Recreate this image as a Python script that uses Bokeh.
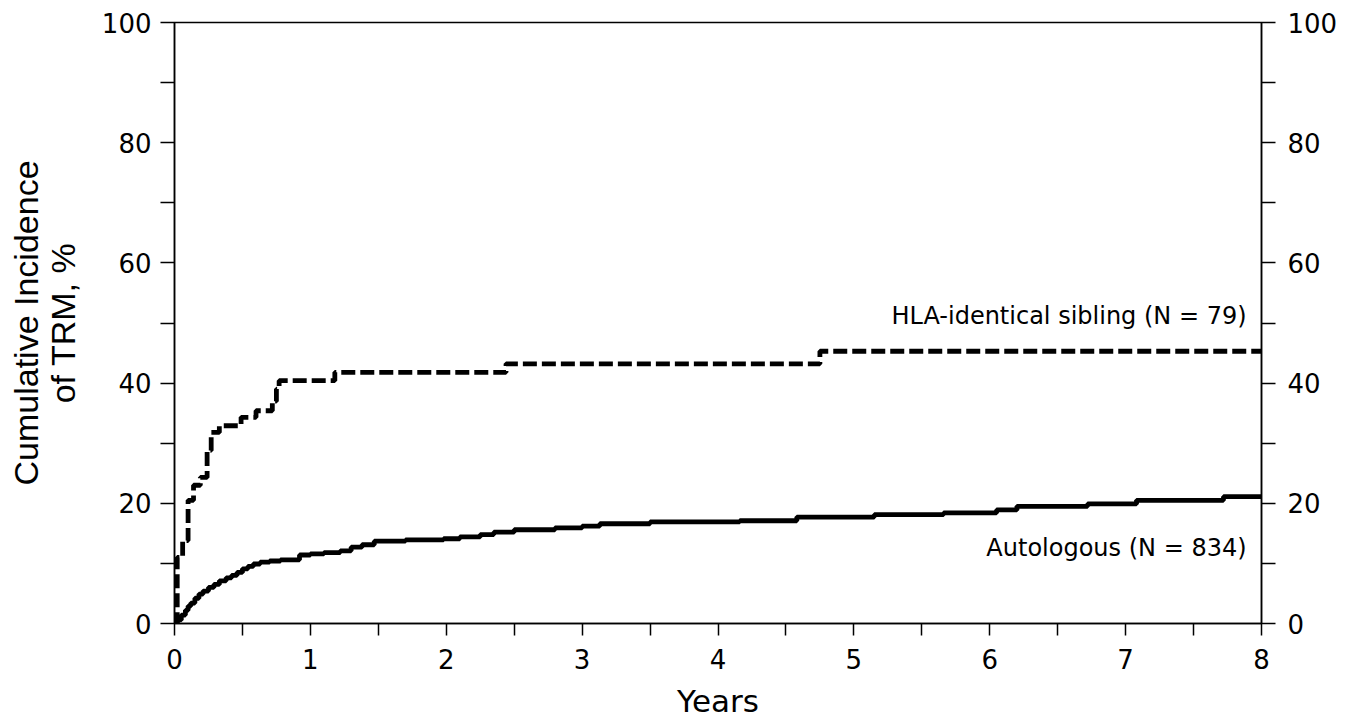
from bokeh.plotting import figure
from bokeh.models import LinearAxis, Label, FixedTicker, Range1d
from bokeh.embed import file_html
from bokeh.resources import INLINE

# HLA-identical sibling (step times in years, cumulative incidence %)
hla_t = [0, 0.02, 0.06, 0.10, 0.14, 0.19, 0.24, 0.27, 0.33, 0.49, 0.60, 0.72, 0.75, 0.77, 1.18, 2.44, 4.75, 8.0]
hla_v = [0, 11.0, 13.8, 20.5, 23.0, 24.3, 28.8, 31.8, 32.9, 34.3, 35.4, 37.0, 39.0, 40.4, 41.8, 43.2, 45.3, 45.3]

# Autologous
auto_t = [0, 0.02, 0.05, 0.08, 0.10, 0.12, 0.15, 0.18, 0.21, 0.25, 0.29, 0.33, 0.38, 0.42, 0.46,
          0.50, 0.54, 0.58, 0.63, 0.70, 0.78, 0.92, 1.00, 1.10, 1.22, 1.30, 1.38, 1.47, 1.70, 1.98,
          2.10, 2.25, 2.35, 2.50, 2.80, 3.00, 3.13, 3.50, 4.16, 4.58, 5.15, 5.66, 6.05, 6.20, 6.72,
          7.08, 7.72, 8.00]
auto_v = [0, 0.6, 1.4, 2.2, 2.9, 3.4, 4.2, 4.9, 5.4, 6.0, 6.5, 7.1, 7.6, 8.0, 8.5,
          9.1, 9.5, 9.9, 10.2, 10.4, 10.6, 11.4, 11.6, 11.8, 12.1, 12.7, 13.1, 13.7, 13.9, 14.1,
          14.4, 14.8, 15.2, 15.6, 15.9, 16.2, 16.6, 16.9, 17.1, 17.7, 18.1, 18.4, 18.9, 19.5, 19.9,
          20.5, 21.1, 21.1]

x_ticks = [0, 1, 2, 3, 4, 5, 6, 7, 8]
x_minor = [0.5, 1.5, 2.5, 3.5, 4.5, 5.5, 6.5, 7.5]
y_ticks = [0, 20, 40, 60, 80, 100]
y_minor = [10, 30, 50, 70, 90]

labels = ["HLA-identical sibling (N = 79)", "Autologous (N = 834)"]
label_pos_x = [7.89, 7.89]
label_pos_y = [51.2, 12.5]

x_title = "Years"
y_title = "Cumulative Incidence\nof TRM, %"

W, H = 1358, 723
p = figure(width=W, height=H, output_backend="svg", toolbar_location=None,
           x_range=Range1d(0, 8), y_range=Range1d(0, 100),
           min_border_left=174, min_border_right=97, min_border_top=22, min_border_bottom=100,
           background_fill_color="white", border_fill_color="white")
p.grid.visible = False
p.outline_line_color = "black"
p.outline_line_width = 1.5

p.step(auto_t, auto_v, mode="after", line_color="black", line_width=4.8)
p.step(hla_t, hla_v, mode="after", line_color="black", line_width=4.8, line_dash="14 5")

def style_axis(ax, ticks, minor):
    ax.ticker = FixedTicker(ticks=ticks, minor_ticks=minor)
    ax.axis_line_color = "black"
    ax.axis_line_width = 1.5
    ax.major_tick_line_color = "black"
    ax.minor_tick_line_color = "black"
    ax.major_tick_line_width = 1.5
    ax.minor_tick_line_width = 1.5
    ax.major_tick_in = 0
    ax.minor_tick_in = 0
    ax.major_label_text_font = "DejaVu Sans"
    ax.major_label_text_font_size = "26px"
    ax.major_label_text_color = "black"
    ax.axis_label_text_font_style = "normal"
    ax.axis_label_text_color = "black"

xa = p.xaxis[0]
style_axis(xa, x_ticks, x_minor)
xa.major_tick_out = 12
xa.minor_tick_out = 12
xa.major_label_standoff = 13
xa.axis_label = x_title
xa.axis_label_text_font = "DejaVu Sans"
xa.axis_label_text_font_size = "31px"
xa.axis_label_standoff = 11

ya = p.yaxis[0]
style_axis(ya, y_ticks, y_minor)
ya.major_tick_out = 14
ya.minor_tick_out = 14
ya.major_label_standoff = 9
ya.axis_label = y_title
ya.axis_label_text_font = "Liberation Sans"
ya.axis_label_text_font_size = "34px"
ya.axis_label_text_line_height = 0.96
ya.axis_label_standoff = 17

ra = LinearAxis()
style_axis(ra, y_ticks, y_minor)
ra.major_tick_out = 14
ra.minor_tick_out = 14
ra.major_label_standoff = 12
p.add_layout(ra, "right")

for txt, lx, ly in zip(labels, label_pos_x, label_pos_y):
    p.add_layout(Label(x=lx, y=ly, text=txt, text_align="right", text_baseline="middle",
                       text_font="DejaVu Sans", text_font_size="24px", text_color="black"))

open("out.html", "w").write(file_html(p, INLINE))
